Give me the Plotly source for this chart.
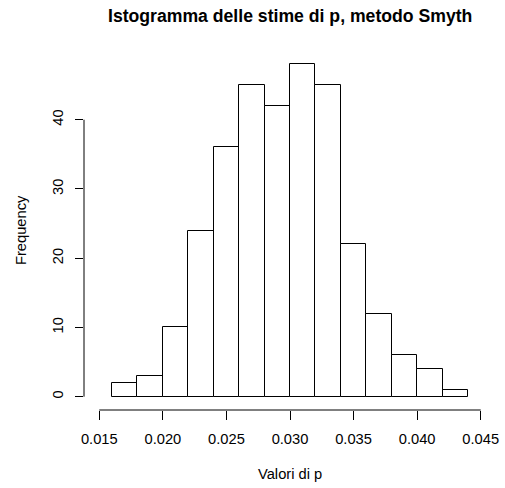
import plotly.graph_objects as go

# Data
breaks = [0.016, 0.018, 0.020, 0.022, 0.024, 0.026, 0.028, 0.030,
          0.032, 0.034, 0.036, 0.038, 0.040, 0.042, 0.044]
counts = [2, 3, 10, 24, 36, 45, 42, 48, 45, 22, 12, 6, 4, 1]
x_ticks = [0.015, 0.020, 0.025, 0.030, 0.035, 0.040, 0.045]
x_tick_labels = ["0.015", "0.020", "0.025", "0.030", "0.035", "0.040", "0.045"]
y_ticks = [0, 10, 20, 30, 40]
y_tick_labels = ["0", "10", "20", "30", "40"]

title = "Istogramma delle stime di p, metodo Smyth"
x_title = "Valori di p"
y_title = "Frequency"

centers = [(a + b) / 2 for a, b in zip(breaks[:-1], breaks[1:])]
widths = [b - a for a, b in zip(breaks[:-1], breaks[1:])]

FONT = "Liberation Sans, Arial, sans-serif"
BASE = 14.7

fig = go.Figure()
fig.add_trace(go.Bar(
    x=centers, y=counts, width=widths,
    marker=dict(color="white", line=dict(color="black", width=1)),
    hoverinfo="x+y", showlegend=False,
))

# R-style axis ranges (4% extension)
xlo, xhi = x_ticks[0], x_ticks[-1]
xpad = (xhi - xlo) * 0.04
ymax = max(counts)
ypad = ymax * 0.04

fig.update_layout(
    width=505, height=488,
    margin=dict(l=83.5, r=6.3, t=50.7, b=78, pad=0),
    paper_bgcolor="white", plot_bgcolor="white",
    font=dict(family=FONT, size=BASE, color="black"),
    bargap=0,
    xaxis=dict(
        range=[xlo - xpad, xhi + xpad], showgrid=False, zeroline=False,
        showline=False, tickmode="array", tickvals=x_ticks, ticktext=x_tick_labels,
        ticks="outside", ticklen=9, tickwidth=1, tickcolor="black",
        tickfont=dict(family=FONT, size=BASE, color="black"),
        ticklabelstandoff=6,
    ),
    yaxis=dict(
        range=[-ypad, ymax + ypad], showgrid=False, zeroline=False,
        showline=False, tickmode="array", tickvals=y_ticks, ticktext=y_tick_labels,
        ticks="outside", ticklen=8, tickwidth=1, tickcolor="black",
        tickangle=-90,
        tickfont=dict(family=FONT, size=BASE, color="black"),
        ticklabelstandoff=6,
    ),
    shapes=[
        dict(type="line", xref="x", yref="paper", x0=x_ticks[0], x1=x_ticks[-1],
             y0=0, y1=0, line=dict(color="black", width=1)),
        dict(type="line", xref="paper", yref="y", x0=0, x1=0,
             y0=y_ticks[0], y1=y_ticks[-1], line=dict(color="black", width=1)),
    ],
    annotations=[
        dict(text=title, xref="paper", yref="paper", x=0.5, y=1,
             xanchor="center", yanchor="middle", yshift=35, showarrow=False,
             font=dict(family=FONT, size=BASE * 1.2, color="black", weight="bold")),
        dict(text=x_title, xref="paper", yref="paper", x=0.5, y=0,
             xanchor="center", yanchor="middle", yshift=-64, showarrow=False,
             font=dict(family=FONT, size=BASE, color="black")),
        dict(text=y_title, xref="paper", yref="paper", x=0, y=0.5,
             xanchor="center", yanchor="middle", xshift=-63.5, textangle=-90,
             showarrow=False, font=dict(family=FONT, size=BASE, color="black")),
    ],
)

fig.write_html("out.html")
